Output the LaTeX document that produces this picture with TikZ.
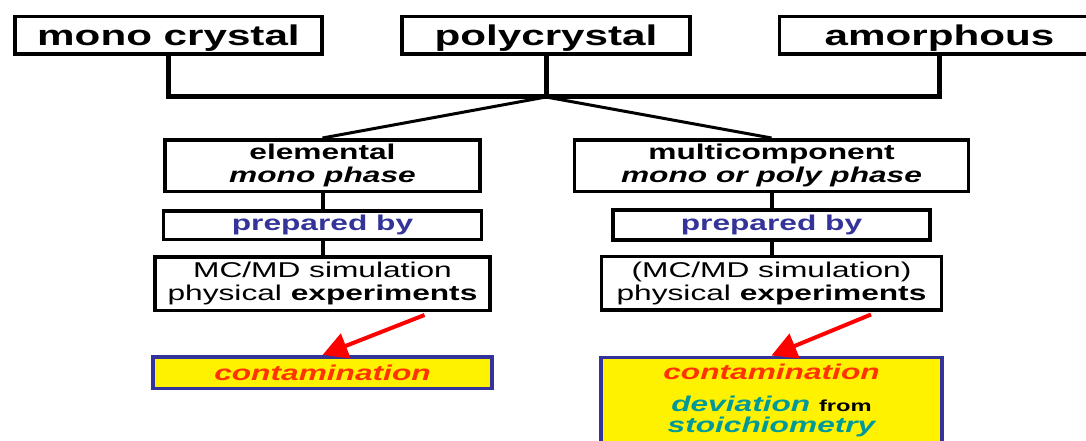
\documentclass[tikz,border=0pt]{standalone}
\usepackage{fontspec}
\setmainfont{Liberation Sans}[FakeStretch=1.48]
\usepackage{tikz}
\usetikzlibrary{arrows.meta, positioning}

\definecolor{prepblue}{RGB}{51,51,153}
\definecolor{contred}{RGB}{255,51,0}
\definecolor{devteal}{RGB}{0,153,153}

\begin{document}
\begin{tikzpicture}[
            x=1pt, y=-1pt,
            node distance=16pt,
            phasebox/.style={draw, line width=3.5pt, minimum height=37.5pt, inner sep=0pt, text depth=0pt, font=\fontsize{28.5}{30}\selectfont\bfseries},
            classbox/.style={draw, line width=3.5pt, align=center, inner sep=0pt, font=\fontsize{21.4}{23}\selectfont},
            resultbox/.style={draw=prepblue, fill=yellow, line width=3.5pt, align=center, inner xsep=0pt, font=\fontsize{21.4}{23}\selectfont\bfseries\itshape},
            bus/.style={line width=5pt},
            link/.style={line width=3pt},
            stem/.style={line width=4pt},
            arrow/.style={draw=red, line width=4pt, -{Triangle[length=25pt, width=26pt]}}
            ]
            \clip (0,0) rectangle (1086,441);

            \node (mono) [phasebox, minimum width=307pt] at (168.5,35.5) {mono crystal};
            \node (poly) [phasebox, minimum width=288pt] at (546,35.5) {polycrystal};
            \node (amor) [phasebox, minimum width=320pt] at (939.5,35.5) {amorphous};
            \coordinate (hub) at (546,97);

            \node (elem) [classbox, minimum width=315pt, minimum height=51.5pt] at (322.5,165.5) {\textbf{elemental}\\\textbf{\textit{mono phase}}};
            \node (prepL) [classbox, minimum width=318pt, minimum height=28.5pt, below=of elem] {\textbf{\color{prepblue}prepared by}};
            \node (mcL) [classbox, minimum width=335pt, minimum height=53.5pt, below=14pt of prepL] {MC/MD simulation\\physical \textbf{experiments}};
            \node (contL) [resultbox, minimum width=339pt, minimum height=31.5pt, inner ysep=0pt, below=43pt of mcL] {\color{contred}contamination};

            \node (multi) [classbox, minimum width=394pt, minimum height=51.5pt] at (771.5,165.5) {\textbf{multicomponent}\\\textbf{\textit{mono or poly phase}}};
            \node (prepR) [classbox, minimum width=317pt, minimum height=30pt, below=15pt of multi] {\textbf{\color{prepblue}prepared by}};
            \node (mcR) [classbox, minimum width=340pt, minimum height=53.5pt, below=13pt of prepR] {(MC/MD simulation)\\physical \textbf{experiments}};
            \node (contR) [resultbox, minimum width=341pt, inner ysep=7pt, below=44pt of mcR] {{\color{contred}contamination}\\[9pt]{\color{devteal}deviation} {\upshape\fontsize{16}{16}\selectfont from}\\[-2pt]{\color{devteal}stoichiometry}};

            % tree on top
            \draw [bus] (mono.south) |- (hub) -| (amor.south);
            \draw [bus] (poly.south) -- (hub);
            \draw [link] (hub) -- (elem.north);
            \draw [link] (hub) -- (multi.north);

            \draw [stem] (elem) -- (prepL);
            \draw [stem] (prepL) -- (mcL);
            \draw [stem] (multi) -- (prepR);
            \draw [stem] (prepR) -- (mcR);

            \draw [arrow] ([shift={(102,3)}]mcL.south) -- (contL.north);
            \draw [arrow] ([shift={(99.5,3)}]mcR.south) -- (contR.north);
        \end{tikzpicture}
\end{document}
